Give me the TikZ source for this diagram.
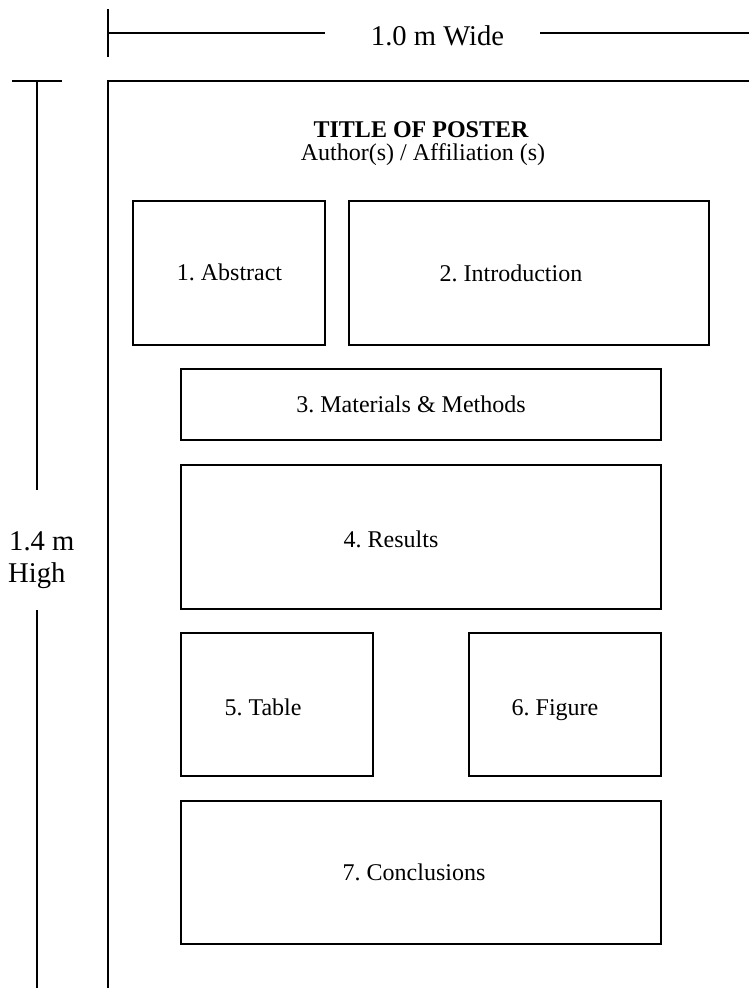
\documentclass[tikz,border=0pt]{standalone}
\usepackage{fontspec}
\setmainfont{Liberation Serif}
\frenchspacing
\begin{document}
\begin{tikzpicture}[x=1pt,y=-1pt,
  box/.style={draw=black, line width=2pt, inner sep=0pt, fill=none},
  lbl/.style={inner sep=0pt, anchor=base, font=\fontsize{24}{28}\selectfont},
  ttl/.style={inner sep=0pt, anchor=base, font=\fontsize{24}{28}\selectfont\bfseries},
  dimtxt/.style={inner sep=0pt, anchor=base, font=\fontsize{28.6}{32}\selectfont},
  dimline/.style={line width=1.8pt},
]
\useasboundingbox (0,0) rectangle (749,988);
% width dimension
\coordinate (wt1) at (108,9);
\coordinate (wt2) at (108,57);
\coordinate (wl1) at (108,33);
\coordinate (wl2) at (325,33);
\coordinate (wr1) at (540,33);
\coordinate (wr2) at (749,33);
\draw[dimline] (wt1) -- (wt2);
\draw[dimline] (wl1) -- (wl2);
\draw[dimline] (wr1) -- (wr2);
\node[dimtxt] (wide) at (437.5,45) {1.0 m Wide};
% height dimension
\coordinate (ht1) at (12,81);
\coordinate (ht2) at (62,81);
\coordinate (hv1) at (37,81);
\coordinate (hv2) at (37,490);
\coordinate (hv3) at (37,610);
\coordinate (hv4) at (37,988);
\draw[dimline] (ht1) -- (ht2);
\draw[dimline] (hv1) -- (hv2);
\draw[dimline] (hv3) -- (hv4);
\node[dimtxt, anchor=base west] (h1) at (9,550) {1.4 m};
\node[dimtxt, anchor=base west] (h2) at (8,582) {High};
% poster frame
\coordinate (f0) at (749,81);
\coordinate (f1) at (108,81);
\coordinate (f2) at (108,513);
\coordinate (f3) at (108,988);
\draw[line width=2pt] (f0) -- (f1) -- (f2);
\draw[line width=1.2pt] (f2) -- (f3);
% title
\node[ttl] (title) at (421,137) {TITLE OF POSTER};
\node[lbl] (auth) at (423,160) {Author(s) / Affiliation (s)};
% boxes
\node[box, minimum width=192, minimum height=144] (b1) at (229,273) {};
\node[lbl] (t1) at (229.5,280) {1. Abstract};
\node[box, minimum width=360, minimum height=144] (b2) at (529,273) {};
\node[lbl] (t2) at (511,281) {2. Introduction};
\node[box, minimum width=480, minimum height=71] (b3) at (421,404.5) {};
\node[lbl] (t3) at (411,412) {3. Materials \& Methods};
\node[box, minimum width=480, minimum height=144] (b4) at (421,537) {};
\node[lbl] (t4) at (391,547) {4. Results};
\node[box, minimum width=192, minimum height=143] (b5) at (277,704.5) {};
\node[lbl] (t5) at (263,715) {5. Table};
\node[box, minimum width=192, minimum height=143] (b6) at (565,704.5) {};
\node[lbl] (t6) at (555,715) {6. Figure};
\node[box, minimum width=480, minimum height=143] (b7) at (421,872.5) {};
\node[lbl] (t7) at (414,880) {7. Conclusions};
\end{tikzpicture}
\end{document}
